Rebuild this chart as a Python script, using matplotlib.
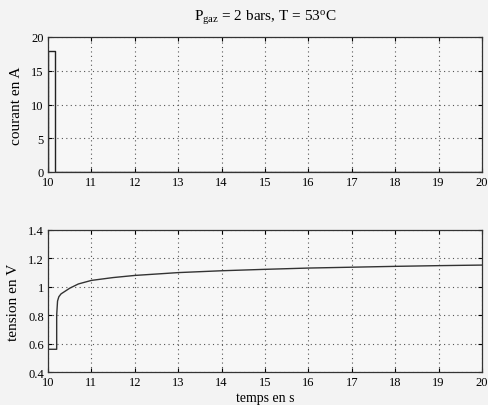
import numpy as np
import matplotlib.pyplot as plt

plt.rcParams["font.family"] = ["Liberation Serif", "DejaVu Serif"]
plt.rcParams["mathtext.fontset"] = "custom"
plt.rcParams["mathtext.rm"] = "Liberation Serif"
plt.rcParams["mathtext.it"] = "Liberation Serif:italic"

# courant (A) : créneau au début puis zéro
t_courant = [10.0, 10.0, 10.16, 10.16, 20.0]
courant = [0.0, 18.0, 18.0, 0.0, 0.0]

# tension (V) relevée point par point
t_tension = [10.0, 10.2, 10.2, 10.22, 10.25, 10.3, 10.4, 10.5, 10.7, 11.0,
             11.5, 12.0, 12.5, 13.0, 14.0, 15.0, 16.0, 17.0, 18.0, 19.0, 20.0]
tension = [0.56, 0.56, 0.80, 0.90, 0.93, 0.95, 0.97, 0.99, 1.02, 1.045,
           1.065, 1.08, 1.09, 1.10, 1.113, 1.123, 1.132, 1.138, 1.144, 1.149, 1.153]

fig = plt.figure(figsize=(4.89, 4.06), dpi=100)
fig.patch.set_facecolor("#f3f3f3")

ax1 = fig.add_axes([48/489, 1 - 173/406, 434/489, 135/406])
ax2 = fig.add_axes([48/489, 1 - 373/406, 434/489, 142/406])

ax1.plot(t_courant, courant, color="#222222", lw=1.0)
ax1.set_xlim(10, 20)
ax1.set_ylim(0, 20)
ax1.set_yticks([0, 5, 10, 15, 20])
ax1.set_xticks(range(10, 21))
ax1.set_ylabel("courant en A", fontsize=11, labelpad=6)
ax1.set_title(r"$\mathrm{P}_{\mathrm{gaz}}$ = 2 bars, T = 53$^{\mathrm{o}}$C",
              fontsize=11, pad=12)

ax2.plot(t_tension, tension, color="#333333", lw=1.0)
ax2.set_xlim(10, 20)
ax2.set_ylim(0.4, 1.4)
ax2.set_yticks([0.4, 0.6, 0.8, 1.0, 1.2, 1.4])
ax2.set_yticklabels(["0.4", "0.6", "0.8", "1", "1.2", "1.4"])
ax2.set_xticks(range(10, 21))
ax2.set_ylabel("tension en V", fontsize=11, labelpad=6)
ax2.set_xlabel("temps en s", fontsize=10, labelpad=2)

for ax in (ax1, ax2):
    ax.set_facecolor("#f7f7f7")
    ax.grid(True, linestyle=(0, (1, 3)), color="#555555", lw=0.8)
    ax.tick_params(direction="in", labelsize=9, length=3, top=True, right=True, pad=3)
    for s in ax.spines.values():
        s.set_color("#333333")
        s.set_linewidth(0.9)

fig.savefig("out.png", dpi=100, facecolor=fig.get_facecolor())
